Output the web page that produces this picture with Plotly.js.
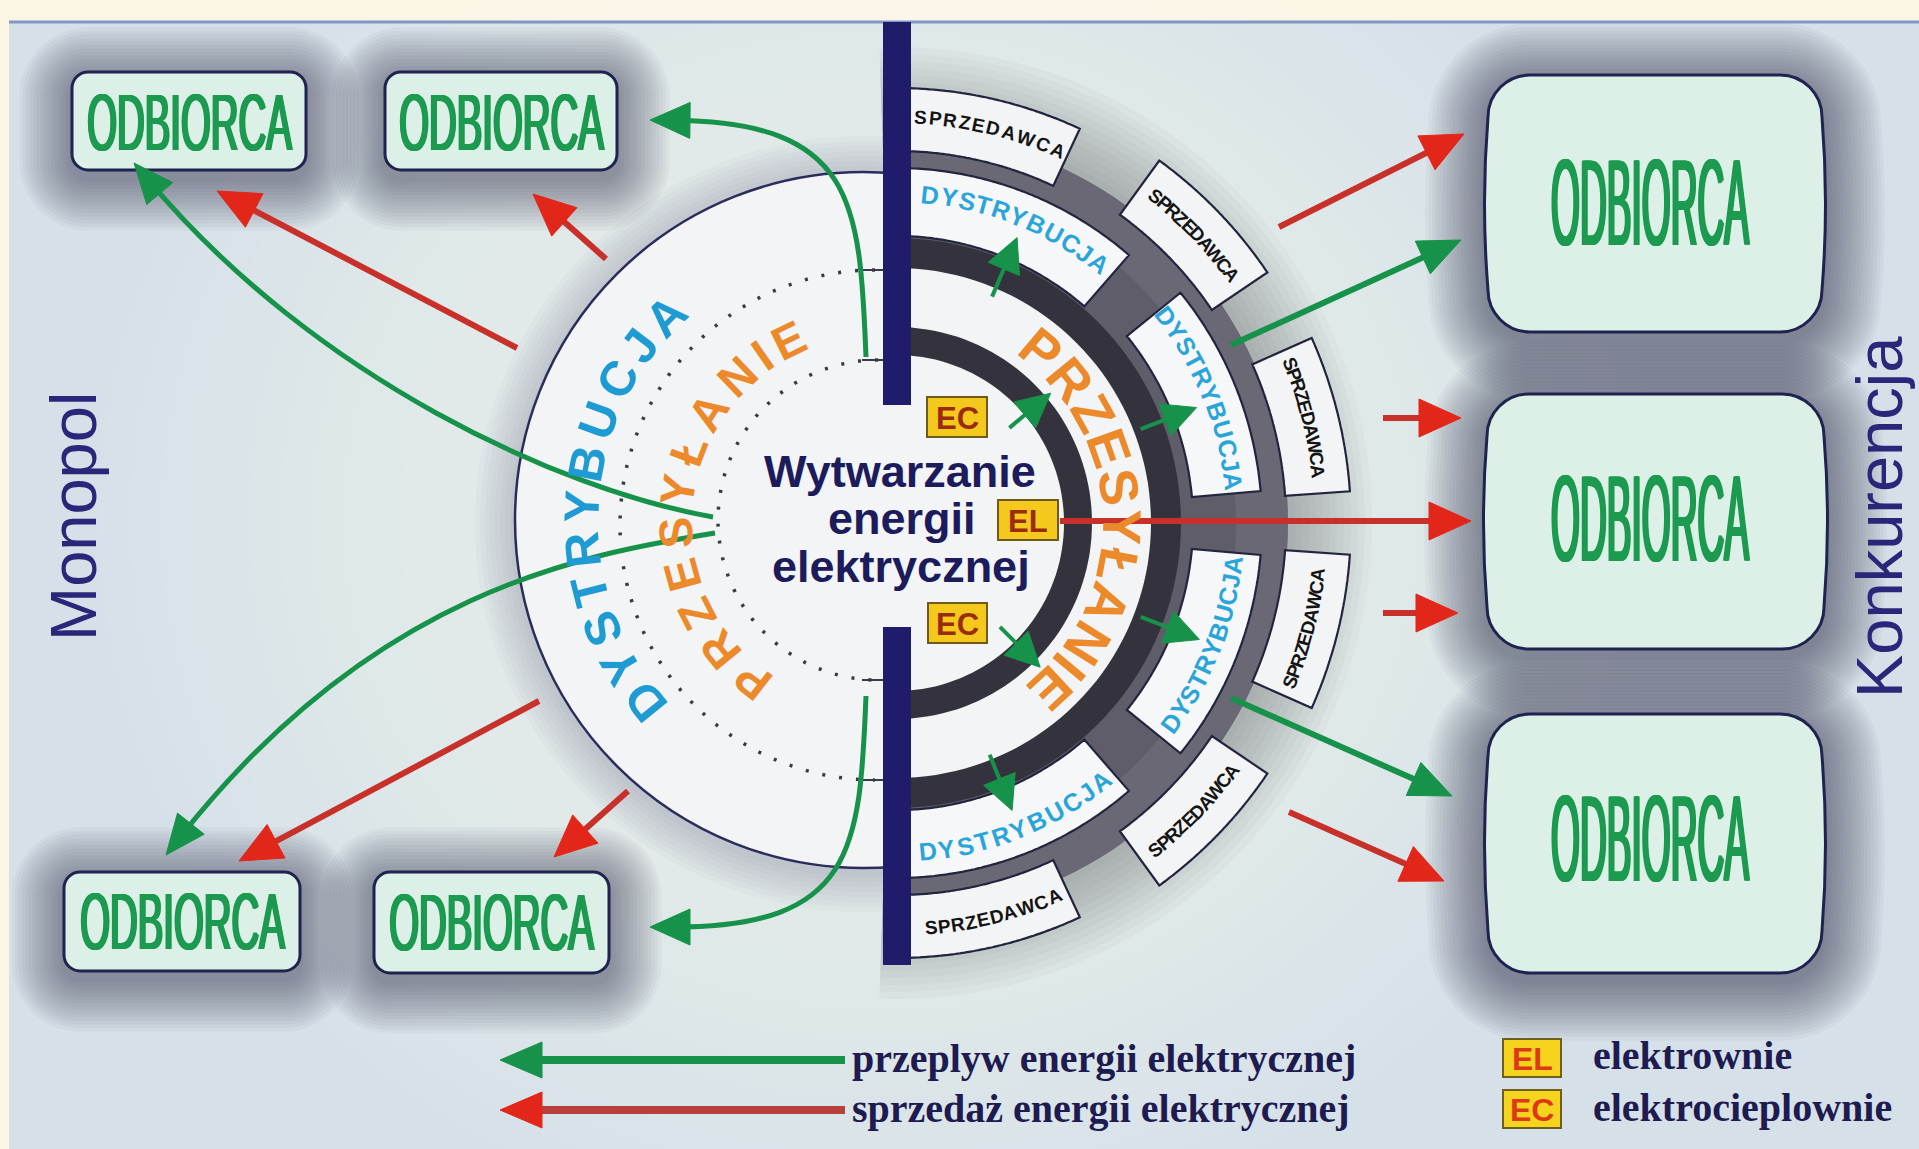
<!DOCTYPE html>
<html><head><meta charset="utf-8">
<script src="https://cdn.plot.ly/plotly-3.0.1.min.js"></script>
<style>html,body{margin:0;padding:0;background:#fbf6e3;overflow:hidden}#chart{width:1919px;height:1149px}</style>
</head><body><div id="chart"></div>
<script>
// ---------------- data (labels) ----------------
const customerLabel = 'ODBIORCA';
const sideTitles = ['Monopol', 'Konkurencja'];
const coreTitle = ['Wytwarzanie', 'energii', 'elektrycznej'];
const layerWords = ['DYSTRYBUCJA', 'PRZESYŁANIE', 'SPRZEDAWCA'];
const plantCodes = ['EL', 'EC'];
const plantNames = ['elektrownie', 'elektrocieplownie'];
const flowNames = ['przeplyw energii elektrycznej', 'sprzedaż energii elektrycznej'];

// ---------------- geometry / styles ----------------
const FS = '"Liberation Sans", Arial, sans-serif';
const FSER = '"Liberation Serif", "Times New Roman", serif';
const NAVY = '#1f1c6c', GREEN = '#17924a', ORANGE = '#ec8a2b';
const shapes = [], ann = [], scaleJobs = [];
const rad = d => d * Math.PI / 180;
const f = v => (+v).toFixed(1);
function P(pts, close) { return 'M' + pts.map(p => f(p[0]) + ',' + f(p[1])).join(' L') + (close ? ' Z' : ''); }
function arc(cx, cy, r, a0, a1, n) { n = n || 80; const o = []; for (let i = 0; i <= n; i++) { const a = rad(a0 + (a1 - a0) * i / n); o.push([cx + r * Math.cos(a), cy + r * Math.sin(a)]); } return o; }
function sector(cx, cy, r0, r1, a0, a1) { return P(arc(cx, cy, r1, a0, a1).concat(arc(cx, cy, r0, a1, a0)), true); }
function addPath(path, fill, lc, lw, extra) {
  shapes.push(Object.assign({ type: 'path', xref: 'x', yref: 'y', path: path, fillcolor: fill || 'rgba(0,0,0,0)',
    line: { color: lc || 'rgba(0,0,0,0)', width: lw || 0 } }, extra || {}));
}
function ell(cx, cy, rx, ry, fill, line) {
  shapes.push({ type: 'circle', xref: 'x', yref: 'y', x0: cx - rx, x1: cx + rx, y0: cy - ry, y1: cy + ry, fillcolor: fill, line: line || { width: 0 } });
}
function rrect(x0, y0, x1, y1, r, b) {
  b = b || 0; const k = 0.552 * r, my = (y0 + y1) / 2;
  return `M${f(x0 + r)},${f(y0)} L${f(x1 - r)},${f(y0)} C${f(x1 - r + k)},${f(y0)} ${f(x1)},${f(y0 + r - k)} ${f(x1)},${f(y0 + r)} Q${f(x1 + b)},${f(my)} ${f(x1)},${f(y1 - r)} C${f(x1)},${f(y1 - r + k)} ${f(x1 - r + k)},${f(y1)} ${f(x1 - r)},${f(y1)} L${f(x0 + r)},${f(y1)} C${f(x0 + r - k)},${f(y1)} ${f(x0)},${f(y1 - r + k)} ${f(x0)},${f(y1 - r)} Q${f(x0 - b)},${f(my)} ${f(x0)},${f(y0 + r)} C${f(x0)},${f(y0 + r - k)} ${f(x0 + r - k)},${f(y0)} ${f(x0 + r)},${f(y0)} Z`;
}
function shadow(b, n, step, alpha, dy) {
  for (let k = n; k >= 1; k--) { const e = k * step; addPath(rrect(b[0] - e, b[1] - e + dy, b[2] + e, b[3] + e + dy, b[4] + e, b[5]), `rgba(48,52,78,${alpha})`); }
}
function head(tip, from, L, hw, color) {
  const dx = tip[0] - from[0], dy = tip[1] - from[1], m = Math.hypot(dx, dy), ux = dx / m, uy = dy / m;
  const bx = tip[0] - ux * L, by = tip[1] - uy * L;
  addPath(P([tip, [bx - uy * hw, by + ux * hw], [bx + uy * hw, by - ux * hw]], true), color, color, 1);
}
// cubic bezier arrow: p0, c1, c2, tip
function cubicArrow(p0, c1, c2, tip, color, w, L, hw) {
  const dx = tip[0] - c2[0], dy = tip[1] - c2[1], m = Math.hypot(dx, dy), s = L * 0.6;
  const end = [tip[0] - dx / m * s, tip[1] - dy / m * s], c2b = [c2[0] - dx / m * s, c2[1] - dy / m * s];
  addPath(`M${f(p0[0])},${f(p0[1])} C${f(c1[0])},${f(c1[1])} ${f(c2b[0])},${f(c2b[1])} ${f(end[0])},${f(end[1])}`, null, color, w);
  head(tip, c2, L, hw, color);
}
function lineArrow(a, b, color, w, L, hw, headColor) {
  const dx = b[0] - a[0], dy = b[1] - a[1], m = Math.hypot(dx, dy);
  const end = [b[0] - dx / m * L * 0.6, b[1] - dy / m * L * 0.6];
  addPath(P([a, end]), null, color, w);
  head(b, a, L, hw, headColor || color);
}
const capW = { A: .722, B: .722, C: .722, D: .722, E: .667, I: .278, J: .556, L: .611, 'Ł': .611, N: .722, P: .667, R: .722, S: .667, T: .611, U: .722, W: .944, Y: .667, Z: .611 };
function n180(a) { while (a > 180) a -= 360; while (a < -180) a += 360; return a; }
function arcText(word, cx, cy, r, aS, aE, size, color, bold, outward) {
  const ch = [...word], w = ch.map(c => capW[c] || .667);
  let cum = 0; const cen = w.map(x => { const c = cum + x / 2; cum += x; return c; });
  const c0 = cen[0], cl = cen[cen.length - 1];
  ch.forEach((c, i) => {
    const a = aS + (aE - aS) * (cen[i] - c0) / (cl - c0);
    ann.push({ x: cx + r * Math.cos(rad(a)), y: cy + r * Math.sin(rad(a)), xref: 'x', yref: 'y', text: c, showarrow: false,
      xanchor: 'center', yanchor: 'middle', textangle: n180(outward ? a + 90 : a - 90),
      font: { family: FS, size: size, color: color, weight: bold ? 'bold' : 'normal' } });
  });
}
function text(t, x, y, size, color, opts) {
  ann.push(Object.assign({ x: x, y: y, xref: 'x', yref: 'y', text: t, showarrow: false, xanchor: 'center', yanchor: 'middle',
    font: { family: FS, size: size, color: color } }, opts || {}));
}

// ---------------- background ----------------
addPath(P([[9, 22], [1919, 22], [1919, 1149], [9, 1149]], true), '#d6e0e8');
for (let k = 12; k >= 1; k--) ell(880, 520, 420 + k * 30, 380 + k * 28, 'rgba(255,255,255,0.045)');
addPath(P([[9, 22], [1919, 22]]), null, '#8196c6', 3);

// customer boxes: [x0,y0,x1,y1,radius,bulge]
const smallBoxes = [[72, 72, 306, 170, 16, 0], [385, 72, 617, 170, 16, 0], [64, 872, 300, 971, 16, 0], [374, 872, 609, 973, 16, 0]];
const bigBoxes = [[1488, 75, 1822, 332, 42, 7], [1487, 394, 1824, 649, 42, 7], [1488, 714, 1822, 973, 42, 7]];
smallBoxes.forEach(b => shadow(b, 15, 3.5, 0.038, 8));
bigBoxes.forEach(b => shadow(b, 17, 3.5, 0.04, 8));

// central disc shadow + disc
const RC = [896, 523];
for (let k = 12; k >= 1; k--) addPath(sector(RC[0], RC[1], 300, 392 + k * 7, -92, 92), 'rgba(48,50,75,0.03)');
for (let k = 8; k >= 1; k--) ell(863, 524, 348 + k * 5, 348 + k * 5, 'rgba(48,50,75,0.025)');
ell(863, 520, 348, 348, '#f2f4f5', { color: '#2a2c5c', width: 2.5 });
// dotted arcs (left continuation of transmission rings) with end ticks
addPath(P(arc(875, 525, 255, 270, 90)), null, '#3a3a46', 3.5, { line: { color: '#3a3a46', width: 3.5, dash: '3px,14px' } });
addPath(P(arc(878, 520, 160, 270, 90)), null, '#3a3a46', 3.5, { line: { color: '#3a3a46', width: 3.5, dash: '3px,14px' } });
[270, 360, 680, 780].forEach(y => addPath(P([[862, y], [883, y]]), null, '#3a3a46', 2));

// right-hand rings
addPath(sector(RC[0], RC[1], 283, 392, -90, 90), '#5e5d69');
addPath(sector(RC[0], RC[1], 340, 392, -90, 90), 'rgba(125,125,138,0.35)');
addPath(sector(RC[0], RC[1], 255, 285, -90, 90), '#34333d');
addPath(sector(RC[0], RC[1], 168, 196, -90, 90), '#34333d');
const distSegs = [[-90, -49, 287, 355], [-39, -5, 297, 366], [5, 39, 297, 366], [49, 90, 287, 355]];
const sellSegs = [[-90, -65, 372, 435], [-54, -34, 381, 448], [-24, -4, 390, 455], [4, 24, 390, 455], [34, 54, 381, 448], [65, 90, 372, 435]];
distSegs.forEach(s => addPath(sector(RC[0], RC[1], s[2], s[3], s[0], s[1]), '#f5f7f8', '#23253f', 2.2));
sellSegs.forEach(s => addPath(sector(RC[0], RC[1], s[2], s[3], s[0], s[1]), '#f3f4f5', '#23253f', 2.2));

// vertical bar
addPath(P([[883, 22], [911, 22], [911, 405], [883, 405]], true), NAVY);
addPath(P([[883, 627], [911, 627], [911, 965], [883, 965]], true), NAVY);

// customer boxes
smallBoxes.concat(bigBoxes).forEach(b => addPath(rrect(b[0], b[1], b[2], b[3], b[4], b[5]), '#dcf0e7', '#1f2350', 3));

// power plant markers [x0,y0,x1,y1,code]
const plantBoxes = [[927, 397, 987, 437, 'EC'], [998, 500, 1058, 540, 'EL'], [928, 603, 987, 643, 'EC']];
plantBoxes.forEach(b => addPath(P([[b[0], b[1]], [b[2], b[1]], [b[2], b[3]], [b[0], b[3]]], true), '#f4c81c', '#6d5b1c', 2));

// ---------------- arrows ----------------
// green: energy flow
cubicArrow([713, 517], [560, 490], [300, 360], [134, 163], GREEN, 5, 40, 17);
cubicArrow([715, 533], [580, 555], [360, 610], [166, 855], GREEN, 5, 40, 17);
cubicArrow([866, 357], [860, 200], [830, 122], [650, 120], GREEN, 5, 40, 18);
cubicArrow([866, 696], [860, 850], [830, 927], [650, 927], GREEN, 5, 40, 18);
lineArrow([1231, 345], [1461, 240], GREEN, 6, 42, 18);
lineArrow([1231, 698], [1452, 796], GREEN, 6, 42, 18);
// small ring arrows [angle, r0, r1]
const ringArrows = [[-67, 246, 310], [-40, 148, 202], [-21, 262, 322], [45, 147, 204], [21, 262, 325], [68, 250, 310]];
ringArrows.forEach(a => {
  const p = r => [RC[0] + r * Math.cos(rad(a[0])), RC[1] + r * Math.sin(rad(a[0]))];
  lineArrow(p(a[1]), p(a[2]), GREEN, 4, 34, 17);
});
// red: sales
const redArrows = [[[517, 348], [217, 191]], [[606, 259], [533, 194]], [[539, 701], [239, 861]], [[628, 791], [554, 857]],
  [[1279, 227], [1464, 134]], [[1383, 418], [1461, 418]], [[1060, 521], [1471, 521]], [[1383, 613], [1458, 613]], [[1289, 812], [1444, 881]]];
redArrows.forEach(a => lineArrow(a[0], a[1], '#c8302a', 6, 42, 19, '#e3261a'));

// legend
lineArrow([845, 1060], [500, 1060], GREEN, 8, 42, 18);
lineArrow([845, 1110], [500, 1110], '#b8403c', 8, 42, 18, '#e3261a');
const legBoxes = [[1503, 1039, 1561, 1077], [1503, 1090, 1561, 1128]];
legBoxes.forEach(b => addPath(P([[b[0], b[1]], [b[2], b[1]], [b[2], b[3]], [b[0], b[3]]], true), '#f6d31d', '#6e5f20', 2));

// ---------------- texts ----------------
text(sideTitles[0], 73, 517, 65, '#28277a', { textangle: -90 });
text(sideTitles[1], 1879, 517, 65, '#28277a', { textangle: -90 });
const coreFont = { family: FS, size: 45, color: '#1c1b5c', weight: 'bold' };
text(coreTitle[0], 900, 471, 45, '', { font: coreFont });
text(coreTitle[1], 902, 518, 45, '', { font: coreFont });
text(coreTitle[2], 901, 566, 45, '', { font: coreFont });
plantBoxes.forEach(b => text(b[4], (b[0] + b[2]) / 2, (b[1] + b[3]) / 2 + 1, 31, '', { font: { family: FS, size: 31, color: '#9a2c0c', weight: 'bold' } }));

// customers (condensed horizontally after render)
function customer(cx, cy, size, w, offs) {
  const i = ann.length, c = '#1b9a50';
  const sh = offs.map(o => `${o}px 0 0 ${c}, -${o}px 0 0 ${c}`).join(', ');
  text(customerLabel, cx, cy, size, '', { font: { family: FS, size: size, color: c, shadow: sh } });
  scaleJobs.push({ i: i, w: w, off: Math.max.apply(null, offs) });
}
customer(189, 122, 80, 209, [1, 2]); customer(501, 122, 80, 209, [1, 2]);
customer(182, 921, 80, 209, [1, 2]); customer(491, 922, 80, 209, [1, 2]);
customer(1650, 202, 123, 204, [1.5, 3]); customer(1650, 518, 123, 204, [1.5, 3]); customer(1650, 838, 123, 204, [1.5, 3]);

// curved layer names
arcText(layerWords[0], 870, 520, 289, 141, 225, 49, '#1f9bd4', true, true);
arcText(layerWords[1], 877, 522, 202, 128, 244, 47, ORANGE, true, true);
arcText(layerWords[1], RC[0], RC[1], 226, -50, 47, 54, ORANGE, true, true);
const distText = [[330, -84, -52, true], [340, -37.5, -7, true], [340, 36, 7, false], [330, 84.5, 51.5, false]];
distText.forEach(d => arcText(layerWords[0], RC[0], RC[1], d[0], d[1], d[2], 25, '#2ba5d9', true, d[3]));
const sellText = [[406, -86.5, -66.5, true], [417, -51.5, -36.5, true], [425, -22, -7, true], [425, 22, 7, false], [417, 51.5, 36.5, false], [406, 85, 67, false]];
sellText.forEach(d => arcText(layerWords[2], RC[0], RC[1], d[0], d[1], d[2], 19, '#141414', true, d[3]));

// legend texts
const legFont = { family: FSER, size: 40, color: '#1d1b4f', weight: 'bold' };
text(flowNames[0], 850, 1058, 40, '', { xanchor: 'left', font: legFont });
text(flowNames[1], 850, 1108, 40, '', { xanchor: 'left', font: legFont });
legBoxes.forEach((b, i) => text(plantCodes[i], (b[0] + b[2]) / 2, (b[1] + b[3]) / 2 + 1, 32, '', { font: { family: FS, size: 32, color: '#dc3a14', weight: 'bold' } }));
text(plantNames[0], 1591, 1055, 40, '', { xanchor: 'left', font: legFont });
text(plantNames[1], 1591, 1107, 40, '', { xanchor: 'left', font: legFont });

// ---------------- plot ----------------
const layout = {
  width: 1919, height: 1149, margin: { l: 0, r: 0, t: 0, b: 0, pad: 0 },
  paper_bgcolor: '#fbf6e3', plot_bgcolor: 'rgba(0,0,0,0)', showlegend: false,
  xaxis: { range: [0, 1919], visible: false, fixedrange: true },
  yaxis: { range: [1149, 0], visible: false, fixedrange: true },
  shapes: shapes, annotations: ann
};
const trace = { type: 'scatter', mode: 'markers', x: [0], y: [0], marker: { opacity: 0 }, hoverinfo: 'skip' };
Plotly.newPlot('chart', [trace], layout, { staticPlot: true }).then(gd => {
  gd.querySelectorAll('g.annotation').forEach(g => {
    const idx = +g.getAttribute('data-index');
    const job = scaleJobs.find(j => j.i === idx); if (!job) return;
    const t = g.querySelector('text.annotation-text'); if (!t) return;
    const bb = t.getBBox(); const sx = (job.w - 2 * job.off) / bb.width;
    const cx = bb.x + bb.width / 2, cy = bb.y + bb.height / 2;
    const prev = t.getAttribute('transform') || '';
    t.setAttribute('transform', prev + ` translate(${cx},${cy}) scale(${sx},1) translate(${-cx},${-cy})`);
  });
});
</script>
</body></html>
